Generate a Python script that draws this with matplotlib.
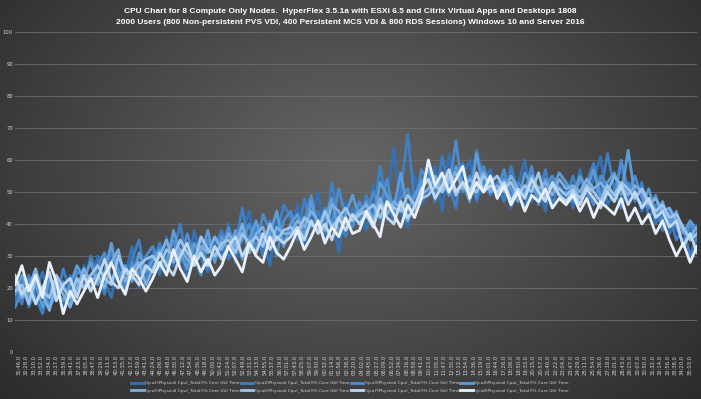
import numpy as np
import matplotlib
matplotlib.use("Agg")
import matplotlib.pyplot as plt

title = ("CPU Chart for 8 Compute Only Nodes.  HyperFlex 3.5.1a with ESXi 6.5 and Citrix Virtual Apps and Desktops 1808\n"
         "2000 Users (800 Non-persistent PVS VDI, 400 Persistent MCS VDI & 800 RDS Sessions) Windows 10 and Server 2016")

series_names = ["\\\\jco1\\Physical Cpu(_Total)\\% Core Util Time",
                "\\\\jco2\\Physical Cpu(_Total)\\% Core Util Time",
                "\\\\jco3\\Physical Cpu(_Total)\\% Core Util Time",
                "\\\\jco4\\Physical Cpu(_Total)\\% Core Util Time",
                "\\\\jco5\\Physical Cpu(_Total)\\% Core Util Time",
                "\\\\jco6\\Physical Cpu(_Total)\\% Core Util Time",
                "\\\\jco7\\Physical Cpu(_Total)\\% Core Util Time",
                "\\\\jco8\\Physical Cpu(_Total)\\% Core Util Time"]

jco1 = [16, 22, 14, 19, 25, 15, 21, 13, 24, 18,
        27, 19, 30, 22, 17, 28, 24, 33, 20, 26,
        31, 24, 36, 27, 33, 22, 38, 29, 25, 34,
        30, 40, 28, 37, 44, 31, 36, 27, 42, 35,
        38, 46, 33, 41, 50, 36, 43, 31, 47, 40,
        45, 38, 52, 41, 48, 64, 43, 39, 55, 46,
        50, 58, 44, 62, 48, 55, 60, 47, 53, 57,
        49, 56, 45, 52, 60, 47, 51, 44, 55, 50,
        52, 45, 57, 48, 54, 61, 46, 50, 58, 47,
        51, 44, 48, 40, 45, 37, 41, 33, 38, 32]
jco2 = [20, 15, 24, 17, 12, 21, 16, 26, 19, 22,
        21, 30, 24, 18, 32, 25, 20, 29, 35, 23,
        28, 34, 25, 31, 40, 27, 32, 36, 26, 33,
        38, 29, 34, 45, 33, 39, 30, 41, 36, 46,
        42, 35, 48, 39, 44, 37, 53, 41, 36, 45,
        40, 49, 43, 58, 46, 41, 50, 68, 47, 52,
        55, 47, 61, 52, 45, 59, 50, 63, 54, 49,
        53, 47, 58, 50, 45, 54, 49, 57, 46, 52,
        48, 55, 47, 53, 59, 49, 62, 51, 45, 53,
        47, 53, 42, 46, 38, 43, 35, 39, 30, 36]
jco3 = [14, 19, 23, 16, 20, 14, 18, 22, 15, 25,
        24, 20, 27, 31, 22, 26, 19, 28, 24, 30,
        33, 26, 29, 35, 28, 37, 30, 24, 35, 29,
        33, 39, 31, 35, 40, 32, 43, 38, 30, 41,
        44, 37, 41, 49, 38, 45, 40, 51, 42, 39,
        47, 42, 50, 45, 54, 43, 48, 51, 44, 57,
        53, 49, 56, 51, 66, 50, 55, 48, 58, 52,
        51, 57, 48, 53, 50, 58, 46, 52, 55, 49,
        50, 47, 54, 50, 46, 55, 52, 48, 60, 50,
        55, 48, 45, 49, 41, 44, 39, 34, 40, 35]
jco4 = [18, 24, 17, 21, 14, 23, 19, 16, 21, 27,
        23, 28, 21, 25, 34, 23, 27, 22, 31, 25,
        29, 32, 27, 38, 31, 26, 34, 30, 38, 28,
        36, 32, 38, 29, 35, 41, 34, 37, 44, 33,
        40, 43, 36, 47, 39, 42, 48, 37, 43, 49,
        42, 47, 40, 53, 49, 45, 56, 44, 49, 53,
        57, 51, 54, 49, 58, 53, 47, 62, 51, 55,
        48, 54, 51, 47, 56, 52, 48, 54, 51, 56,
        53, 49, 55, 51, 57, 48, 53, 56, 49, 63,
        49, 46, 51, 43, 47, 40, 44, 37, 41, 38]
jco5 = [22, 17, 20, 26, 18, 13, 22, 18, 14, 20,
        26, 22, 24, 20, 28, 32, 22, 26, 28, 21,
        26, 30, 35, 28, 32, 29, 27, 33, 31, 36,
        32, 37, 33, 40, 31, 37, 39, 33, 39, 37,
        37, 41, 39, 44, 41, 38, 46, 44, 40, 42,
        44, 46, 41, 48, 43, 47, 45, 41, 46, 49,
        51, 55, 50, 53, 56, 51, 54, 52, 56, 50,
        52, 50, 55, 51, 49, 55, 51, 53, 49, 54,
        51, 52, 50, 54, 51, 53, 50, 55, 52, 49,
        52, 50, 46, 48, 44, 45, 41, 38, 36, 39]
jco6 = [19, 21, 15, 23, 19, 17, 24, 20, 17, 23,
        20, 24, 27, 23, 21, 30, 25, 23, 27, 29,
        30, 27, 32, 30, 35, 31, 28, 36, 32, 30,
        34, 35, 31, 37, 34, 36, 33, 40, 35, 38,
        39, 37, 42, 40, 38, 44, 39, 42, 45, 41,
        43, 44, 46, 42, 47, 45, 44, 49, 46, 48,
        49, 52, 50, 55, 49, 53, 51, 50, 55, 53,
        55, 51, 53, 49, 52, 50, 56, 48, 52, 51,
        49, 51, 48, 52, 50, 47, 52, 49, 53, 51,
        48, 51, 47, 44, 46, 42, 43, 39, 35, 37]
jco7 = [24, 18, 21, 15, 20, 25, 16, 21, 23, 17,
        24, 19, 23, 29, 22, 20, 26, 24, 21, 27,
        25, 31, 27, 24, 30, 34, 27, 31, 27, 33,
        29, 33, 36, 30, 34, 31, 37, 32, 36, 34,
        36, 39, 35, 41, 37, 40, 35, 42, 38, 43,
        40, 43, 39, 46, 42, 40, 47, 42, 45, 51,
        54, 48, 52, 57, 50, 53, 49, 56, 50, 52,
        50, 53, 47, 51, 48, 54, 50, 47, 53, 49,
        47, 50, 46, 51, 48, 45, 50, 47, 52, 46,
        50, 45, 48, 42, 44, 39, 41, 33, 37, 31]
jco8 = [21, 27, 19, 24, 17, 28, 22, 12, 19, 15,
        19, 23, 17, 24, 28, 22, 18, 26, 23, 19,
        23, 28, 24, 32, 26, 22, 30, 25, 29, 24,
        27, 33, 29, 25, 34, 30, 28, 36, 31, 29,
        33, 38, 32, 36, 41, 34, 39, 36, 42, 37,
        38, 44, 40, 36, 47, 43, 39, 46, 42, 48,
        60, 52, 56, 50, 54, 58, 48, 53, 50, 55,
        48, 52, 46, 50, 44, 49, 47, 51, 45, 48,
        46, 49, 44, 48, 42, 47, 45, 43, 48, 41,
        45, 40, 43, 37, 41, 35, 30, 34, 28, 33]

time_labels = ["31:46.0", "32:28.0", "33:10.0", "33:52.0", "34:34.0", "35:17.0", "35:59.0", "36:41.0",
               "37:23.0", "38:05.0", "38:47.0", "39:29.0", "40:11.0", "40:53.0", "41:35.0", "42:17.0",
               "42:59.0", "43:41.0", "44:24.0", "45:06.0", "45:48.0", "46:30.0", "47:12.0", "47:54.0",
               "48:36.0", "49:18.0", "50:00.0", "50:42.0", "51:24.0", "52:07.0", "52:49.0", "53:31.0",
               "54:13.0", "54:55.0", "55:37.0", "56:19.0", "57:01.0", "57:43.0", "58:25.0", "59:07.0",
               "59:50.0", "00:32.0", "01:14.0", "01:56.0", "02:38.0", "03:20.0", "04:02.0", "04:45.0",
               "05:27.0", "06:09.0", "06:52.0", "07:34.0", "08:16.0", "08:58.0", "09:41.0", "10:23.0",
               "11:05.0", "11:47.0", "12:30.0", "13:12.0", "13:54.0", "14:36.0", "15:19.0", "16:01.0",
               "16:44.0", "17:26.0", "18:08.0", "18:50.0", "19:33.0", "20:15.0", "20:57.0", "21:40.0",
               "22:22.0", "23:04.0", "23:47.0", "24:29.0", "25:11.0", "25:54.0", "26:36.0", "27:18.0",
               "28:01.0", "28:43.0", "29:25.0", "30:07.0", "30:50.0", "31:32.0", "32:14.0", "32:56.0",
               "33:38.0", "34:20.0", "35:03.0"]

series = [jco1, jco2, jco3, jco4, jco5, jco6, jco7, jco8]
colors = ['#3472b5', '#3f80c4', '#4d8dcf', '#5e9cd8', '#7cb0e2', '#9dc4eb', '#c0d9f0', '#e8f1fb']

W, H = 701, 399
fig = plt.figure(figsize=(W / 100, H / 100), dpi=100)

# background radial gradient
bg = fig.add_axes([0, 0, 1, 1], zorder=-10)
yy, xx = np.mgrid[0:H, 0:W]
r = np.sqrt(((xx - 350) / 430.0) ** 2 + ((yy - 170) / 310.0) ** 2)
val = np.clip(0.40 - 0.21 * r, 0.14, 0.4)
bg.imshow(np.dstack([val, val, val]), aspect='auto', extent=[0, 1, 0, 1], origin='upper')
bg.axis('off')

ax = fig.add_axes([15 / W, 1 - 352 / H, (697 - 15) / W, (352 - 32) / H])
ax.patch.set_alpha(0)
n = len(jco1)
x = np.arange(n)
lines = []
for s, c, name in zip(series, colors, series_names):
    ln, = ax.plot(x, s, color=c, lw=2.0, label=name, solid_joinstyle='round')
    lines.append(ln)

ax.set_xlim(0, n - 1)
ax.set_ylim(0, 100)
ax.set_yticks(range(0, 101, 10))
ax.yaxis.grid(True, color='#6e6e6e', lw=0.6)
ax.set_axisbelow(True)
for sp in ax.spines.values():
    sp.set_visible(False)
ax.tick_params(axis='y', length=0, labelsize=3.8, labelcolor='#cfcfcf', pad=1.5)
lo = (19 - 15) / (697 - 15) * (n - 1)
hi = (690 - 15) / (697 - 15) * (n - 1)
ax.set_xticks(np.linspace(lo, hi, len(time_labels)))
ax.set_xticklabels(time_labels, rotation=90, fontsize=3.8, color='#d0d0d0')
ax.tick_params(axis='x', length=0, pad=2)

fig.text(0.5, 1 - 17 / H, title, ha='center', va='center', color='white',
         fontsize=6.0, fontweight='bold', family='Liberation Sans', linespacing=1.85)

order = [0, 4, 1, 5, 2, 6, 3, 7]
leg = fig.legend([lines[i] for i in order], [series_names[i] for i in order], ncol=4,
                 loc='center', bbox_to_anchor=(350 / W, 1 - 387 / H), frameon=False,
                 fontsize=3.2, labelcolor='#d0d0d0', handlelength=2.8, handletextpad=0.3,
                 columnspacing=0.3, labelspacing=0.85)
for h in leg.get_lines():
    h.set_linewidth(2.0)

fig.savefig('out.png', dpi=100)
